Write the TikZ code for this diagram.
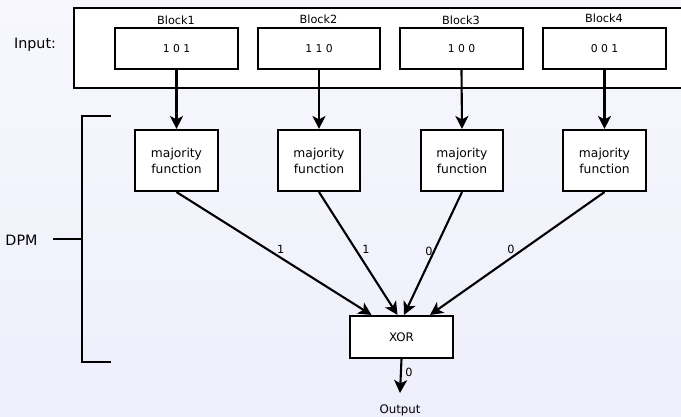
\documentclass[tikz,border=0pt]{standalone}
\usepackage{fontspec}
\setmainfont{DejaVu Sans}
\usetikzlibrary{arrows.meta}
\definecolor{bgtop}{RGB}{247,247,253}
\definecolor{bgbot}{RGB}{239,239,252}
\tikzset{
  box/.style={draw=black, line width=2.1pt, fill=white, inner sep=0pt, font=\fontsize{12.3}{16}\selectfont, align=center},
  conn/.style={line width=2.1pt, -{Stealth[length=13pt,width=13pt,inset=3.5pt]}},
  lbl/.style={font=\fontsize{11.3}{12}\selectfont, inner sep=1.5pt},
  plain/.style={line width=2.1pt},
  digits/.style={font=\fontsize{10.8}{12}\selectfont},
}
\begin{document}
\begin{tikzpicture}[x=1pt,y=-1pt]
\useasboundingbox (0,0) rectangle (681,416);
\shade[top color=bgtop, bottom color=bgbot] (0,0) rectangle (681,416);
\begin{scope}
\clip (0,0) rectangle (681,416);
\draw[plain, fill=white] (74,8) rectangle (690,88);
\end{scope}
\node[font=\fontsize{14.3}{16}\selectfont] (inp) at (35,45) {Input:};
% blocks
\node[box, digits, minimum width=123pt, minimum height=41pt] (b1) at (176.5,48.5) {1 0 1};
\node[box, digits, minimum width=122pt, minimum height=41pt] (b2) at (319,48.5) {1 1 0};
\node[box, digits, minimum width=123pt, minimum height=41pt] (b3) at (461.5,48.5) {1 0 0};
\node[box, digits, minimum width=123pt, minimum height=41pt] (b4) at (604.5,48.5) {0 0 1};
\node[lbl] (l1) at (176,20.5) {Block1};
\node[lbl] (l2) at (318.5,19.5) {Block2};
\node[lbl] (l3) at (461,20.5) {Block3};
\node[lbl] (l4) at (604,18.5) {Block4};
% majority
\node[box, minimum width=83pt, minimum height=61pt] (m1) at (176.5,160.5) {majority\\function};
\node[box, minimum width=82pt, minimum height=61pt] (m2) at (319,160.5) {majority\\function};
\node[box, minimum width=82pt, minimum height=61pt] (m3) at (462,160.5) {majority\\function};
\node[box, minimum width=83pt, minimum height=61pt] (m4) at (604.5,160.5) {majority\\function};
\draw[conn] (b1.south) -- (m1.north);
\draw[conn] (b2.south) -- (m2.north);
\draw[conn] (b3.south) -- (m3.north);
\draw[conn] (b4.south) -- (m4.north);
% XOR
\node[box, font=\fontsize{11.8}{14}\selectfont, minimum width=103pt, minimum height=42pt] (xor) at (401.5,337) {XOR};
\draw[conn] (m1.south) -- ([xshift=-30pt]xor.north) node[lbl, pos=0.534, above=2pt] {1};
\draw[conn] (m2.south) -- ([xshift=-4pt]xor.north) node[lbl, pos=0.47, right=4pt] {1};
\draw[conn] (m3.south) -- ([xshift=2.5pt]xor.north) node[lbl, pos=0.48, left=-1pt] {0};
\draw[conn] (m4.south) -- ([xshift=28.5pt]xor.north) node[lbl, pos=0.536, above=2pt] {0};
% output
\coordinate (oend) at (400,393);
\draw[conn] (xor.south) -- (oend) node[lbl, pos=0.4, right=2pt] {0};
\node[lbl, font=\fontsize{11.8}{12}\selectfont] (out) at (400,410) {Output};
% DPM bracket
\coordinate (bt) at (111,116);
\coordinate (bb) at (111,362);
\coordinate (bm) at (82,239);
\draw[plain] (bt) -- (82,116) -- (82,362) -- (bb);
\node[font=\fontsize{14.3}{16}\selectfont, anchor=east] (dpm) at (41,240) {DPM};
\draw[plain] (53,239) -- (bm);
\end{tikzpicture}
\end{document}
